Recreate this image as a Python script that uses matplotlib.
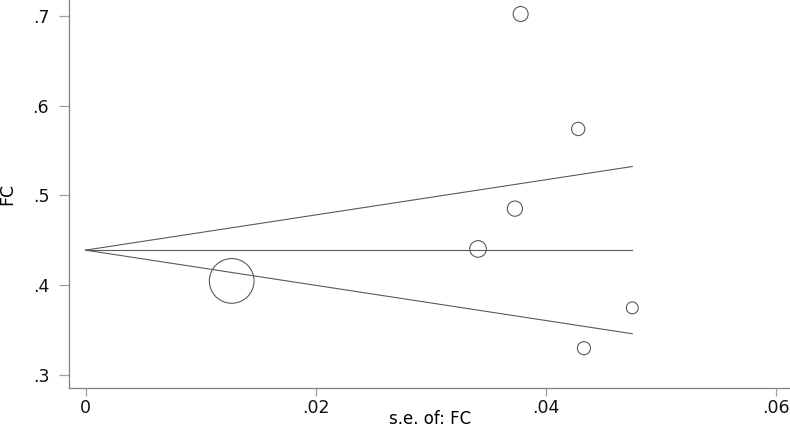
import numpy as np
import matplotlib
matplotlib.use("Agg")
import matplotlib.pyplot as plt

# study estimates (FC) and their standard errors
se = [0.0127, 0.0378, 0.0428, 0.0373, 0.0341, 0.0475, 0.0433]
fc = [0.4047, 0.7019, 0.5739, 0.4852, 0.4403, 0.3747, 0.3298]

# pooled estimate and pseudo 95% limits
pooled = 0.439
se_max = 0.0475

xticks = [0, 0.02, 0.04, 0.06]
xtick_labels = ["0", ".02", ".04", ".06"]
yticks = [0.3, 0.4, 0.5, 0.6, 0.7]
ytick_labels = [".3", ".4", ".5", ".6", ".7"]

se = np.asarray(se)
fc = np.asarray(fc)

fig = plt.figure(figsize=(7.9, 4.28), dpi=100)
ax = fig.add_axes([0.0877, 0.0935, 0.9123, 0.9065])

# funnel lines
s_line = np.array([0.0, se_max])
ax.plot(s_line, pooled + 1.96 * s_line, color="#5a5a5a", lw=0.8)
ax.plot(s_line, pooled - 1.96 * s_line, color="#5a5a5a", lw=0.8)
ax.plot(s_line, [pooled, pooled], color="#5a5a5a", lw=0.8)

# markers sized by weight 1/se^2
sizes = 0.167 / se ** 2
ax.scatter(se, fc, s=sizes, facecolors="none", edgecolors="#5a5a5a",
           linewidths=0.8, zorder=3)

ax.set_xlim(-0.00141, 0.0612)
ax.set_ylim(0.2855, 0.7175)

ax.set_xticks(xticks)
ax.set_xticklabels(xtick_labels)
ax.set_yticks(yticks)
ax.set_yticklabels(ytick_labels)

for side in ["top", "right"]:
    ax.spines[side].set_visible(False)
for side in ["left", "bottom"]:
    ax.spines[side].set_color("#808080")
    ax.spines[side].set_linewidth(0.9)

ax.tick_params(direction="out", width=0.9, color="#a0a0a0",
               labelsize=12.5, labelcolor="#111111")
ax.tick_params(axis="x", length=6, pad=2)
ax.tick_params(axis="y", length=7.5, pad=7)

ax.set_xlabel("s.e. of: FC", fontsize=12, va="center")
ax.xaxis.set_label_coords(0.5, -0.081)
ax.set_ylabel("FC", fontsize=12.5, va="center")
ax.yaxis.set_label_coords(-0.0855, 0.5)

fig.savefig("out.png", dpi=100)
